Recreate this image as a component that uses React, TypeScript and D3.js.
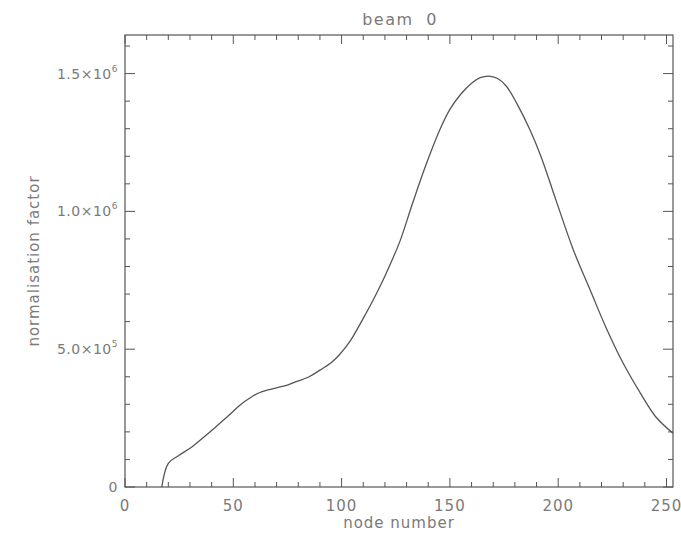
import React, { useEffect, useRef } from 'react';
import * as d3 from 'd3';

// node numbers and normalisation factor
const nodes = [17, 20, 25, 31, 37, 42, 48, 53, 58, 62, 66, 70, 75, 79, 85, 90, 95, 99, 104, 110, 115, 119, 123, 127, 133, 139, 145, 150, 155, 160, 164, 168, 172, 176, 181, 187, 192, 199, 207, 215, 222, 230, 238, 245, 253];
const norm = [0, 0.086, 0.115, 0.146, 0.185, 0.219, 0.26, 0.297, 0.325, 0.342, 0.352, 0.36, 0.37, 0.382, 0.40, 0.424, 0.45, 0.48, 0.53, 0.612, 0.685, 0.748, 0.818, 0.893, 1.035, 1.17, 1.29, 1.37, 1.425, 1.465, 1.485, 1.491, 1.482, 1.455, 1.39, 1.295, 1.2, 1.04, 0.86, 0.71, 0.58, 0.449, 0.34, 0.255, 0.195].map(v => v * 1e6);

const xTicks = [0, 50, 100, 150, 200, 250];
const yTicks = [0, 5e5, 1e6, 1.5e6];
const yTickMant = ['0', '5.0', '1.0', '1.5'];
const yTickExp = ['', '5', '6', '6'];

export default function App() {
    const svgRef = useRef(null);

    useEffect(() => {
        const W = 681, H = 535;
        const margin = { top: 35, right: 8, bottom: 48, left: 125 };
        const width = W - margin.left - margin.right;
        const height = H - margin.top - margin.bottom;
        const ink = '#555';
        const textCol = '#7a7a7a';
        const font = '"DejaVu Sans", sans-serif';

        const svg = d3.select(svgRef.current);
        svg.selectAll('*').remove();
        svg.attr('width', W).attr('height', H);

        const g = svg.append('g').attr('transform', `translate(${margin.left}, ${margin.top})`);

        const x = d3.scaleLinear().domain([0, 253]).range([0, width]);
        const y = d3.scaleLinear().domain([0, 1.64e6]).range([height, 0]);

        const minorX = d3.range(0, 254, 10);
        const minorY = d3.range(0, 1.64e6, 1e5);

        // box
        g.append('rect')
            .attr('width', width).attr('height', height)
            .attr('fill', 'none').attr('stroke', ink).attr('stroke-width', 1.2);

        // ticks on all four sides, pointing inward
        minorX.forEach(v => {
            const len = v % 50 === 0 ? 9 : 5;
            g.append('line').attr('x1', x(v)).attr('x2', x(v)).attr('y1', height).attr('y2', height - len)
                .attr('stroke', ink);
            g.append('line').attr('x1', x(v)).attr('x2', x(v)).attr('y1', 0).attr('y2', len)
                .attr('stroke', ink);
        });
        minorY.forEach(v => {
            const len = Math.round(v / 1e5) % 5 === 0 ? 10 : 5;
            g.append('line').attr('x1', 0).attr('x2', len).attr('y1', y(v)).attr('y2', y(v))
                .attr('stroke', ink);
            g.append('line').attr('x1', width).attr('x2', width - len).attr('y1', y(v)).attr('y2', y(v))
                .attr('stroke', ink);
        });

        // x labels
        g.selectAll('.xl').data(xTicks).enter().append('text')
            .attr('x', d => x(d)).attr('y', height + 24)
            .attr('text-anchor', 'middle')
            .attr('font-family', font).attr('font-size', 15).attr('letter-spacing', 1)
            .attr('fill', textCol)
            .text(d => d);

        // y labels with superscript exponent
        yTicks.forEach((v, i) => {
            const t = g.append('text')
                .attr('x', -7).attr('y', y(v) + 5)
                .attr('text-anchor', 'end')
                .attr('font-family', font).attr('font-size', 14).attr('letter-spacing', 0.5)
                .attr('fill', textCol);
            if (yTickExp[i] === '') {
                t.text(yTickMant[i]);
            } else {
                t.append('tspan').text(`${yTickMant[i]}×10`);
                t.append('tspan').attr('dy', -7).attr('font-size', 9).text(yTickExp[i]);
            }
        });

        // titles
        svg.append('text')
            .attr('x', margin.left + width / 2 + 1).attr('y', 25)
            .attr('text-anchor', 'middle')
            .attr('font-family', font).attr('font-size', 16)
            .attr('letter-spacing', 1.5).attr('word-spacing', 6)
            .attr('fill', textCol)
            .text('beam 0');

        svg.append('text')
            .attr('x', margin.left + width / 2).attr('y', 528)
            .attr('text-anchor', 'middle')
            .attr('font-family', font).attr('font-size', 15).attr('letter-spacing', 1)
            .attr('fill', textCol)
            .text('node number');

        svg.append('text')
            .attr('transform', `translate(39, ${margin.top + height / 2}) rotate(-90)`)
            .attr('text-anchor', 'middle')
            .attr('font-family', font).attr('font-size', 15).attr('letter-spacing', 1)
            .attr('fill', textCol)
            .text('normalisation factor');

        // curve
        const pts = nodes.map((n, i) => [n, norm[i]]);
        const line = d3.line()
            .x(d => x(d[0]))
            .y(d => y(d[1]))
            .curve(d3.curveCatmullRom.alpha(0.5));

        g.append('path')
            .datum(pts)
            .attr('d', line)
            .attr('fill', 'none')
            .attr('stroke', ink)
            .attr('stroke-width', 1.3);
    }, []);

    return (
        <div>
            <svg ref={svgRef} style={{ position: 'absolute', left: 0, top: 0 }}></svg>
        </div>
    );
}
